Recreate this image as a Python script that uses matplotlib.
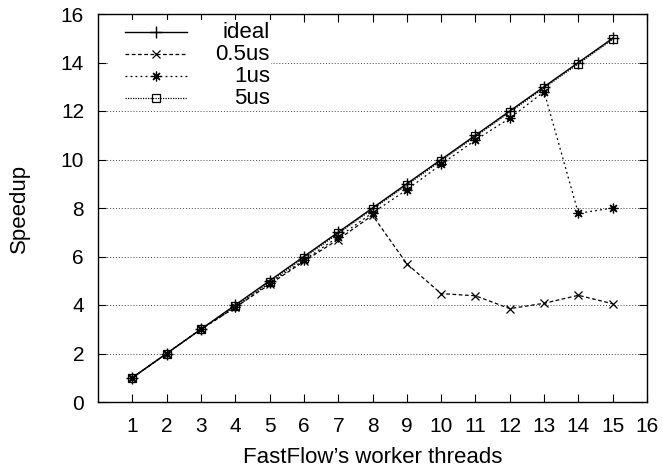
import matplotlib
matplotlib.use("Agg")
import matplotlib.pyplot as plt
from matplotlib.lines import Line2D
from matplotlib.patches import Rectangle

plt.rcParams['font.family'] = ['Liberation Sans', 'DejaVu Sans']

threads = [1, 2, 3, 4, 5, 6, 7, 8, 9, 10, 11, 12, 13, 14, 15]
ideal = [1, 2, 3, 4, 5, 6, 7, 8, 9, 10, 11, 12, 13, 14, 15]
s05us = [1, 2, 3, 3.9, 4.85, 5.8, 6.7, 7.7, 5.7, 4.47, 4.38, 3.85, 4.07, 4.4, 4.05]
s1us = [1, 2, 3, 3.9, 4.9, 5.85, 6.8, 7.8, 8.75, 9.8, 10.8, 11.7, 12.8, 7.78, 8.0]
s5us = [1, 2, 3, 3.95, 4.95, 5.95, 6.95, 7.95, 8.95, 9.95, 10.95, 11.95, 12.95, 13.95, 14.95]
labels = ["ideal", "0.5us", "1us", "5us"]
xticks = list(range(1, 17))
yticks = list(range(0, 17, 2))

fig = plt.figure(figsize=(6.63, 4.72), dpi=100)
W, H = 663, 472
ax = fig.add_axes([98 / W, 1 - 402 / H, (647 - 98) / W, (402 - 14) / H])

styles = [
    dict(color='black', lw=1.0, ls='-', marker='+', ms=8, mew=1.0),
    dict(color='black', lw=0.9, ls=(0, (3, 2)), marker='x', ms=6, mew=0.9),
    dict(color='black', lw=0.9, ls=(0, (1.5, 2.5)), marker=(8, 2, 0), ms=7, mew=0.9),
    dict(color='black', lw=0.9, ls=(0, (1, 1)), marker='s', ms=6, mew=0.9, mfc='none'),
]
series = [ideal, s05us, s1us, s5us]
for ys, st in zip(series, styles):
    ax.plot(threads, ys, zorder=3, **st)

ax.set_xlim(0, 16)
ax.set_ylim(0, 16)
ax.set_xticks(xticks)
ax.set_yticks(yticks)
ax.tick_params(direction='in', length=6, width=0.8, top=True, right=True,
               labelsize=15)
ax.tick_params(axis='x', pad=11)
ax.tick_params(axis='y', pad=10)
for sp in ax.spines.values():
    sp.set_linewidth(1.0)
for y in yticks[1:-1]:
    ax.axhline(y, color='#444444', lw=0.7, ls=(0, (1, 2)), zorder=1)

ax.set_xlabel("FastFlow\u2019s worker threads", fontsize=16, labelpad=8)
ax.set_ylabel("Speedup", fontsize=16, labelpad=22)

# legend (gnuplot style: sample first, text right aligned)
def ax_x(px):
    return (px - 98) / (647 - 98)
def ax_y(py):
    return (402 - py) / (402 - 14)

ax.add_patch(Rectangle((ax_x(108), ax_y(110)), ax_x(271) - ax_x(108), ax_y(20) - ax_y(110),
                       transform=ax.transAxes, facecolor='white', edgecolor='none', zorder=4))
rows = [32, 54, 76, 98]
for lab, st, py in zip(labels, styles, rows):
    ln = Line2D([ax_x(125), ax_x(156), ax_x(187)], [ax_y(py)] * 3, transform=ax.transAxes,
                markevery=[1], zorder=5, **st)
    ax.add_line(ln)
    ax.text(ax_x(270), ax_y(py), lab, transform=ax.transAxes, ha='right', va='center',
            fontsize=16, zorder=6)

fig.savefig("out.png", dpi=100)
